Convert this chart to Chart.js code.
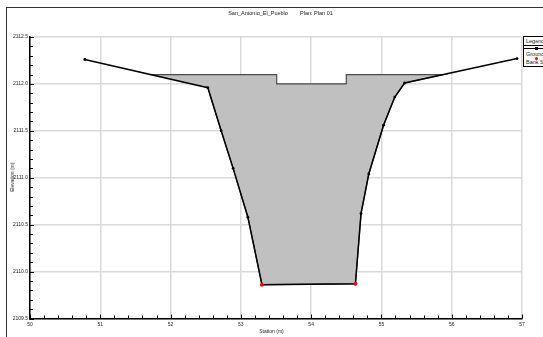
<!DOCTYPE html>
<html>
<head>
<meta charset="utf-8">
<script src="https://cdn.jsdelivr.net/npm/chart.js@4/dist/chart.umd.min.js"></script>
<style>
  body { margin: 0; background: #fff; font-family: "Liberation Sans", Arial, sans-serif; }
  #wrap { position: relative; width: 543px; height: 337px; overflow: hidden; }
  #frame { position: absolute; left: 6px; top: 7px; width: 600px; height: 330px;
           border-left: 1.5px solid #333; border-top: 1.5px solid #333; }
  #title { position: absolute; top: 10px; left: 0; width: 543px; text-align: center;
           font-size: 5.5px; color: #222; white-space: pre; padding-left: 18px; box-sizing: border-box; }
  #xtitle { position: absolute; top: 328px; left: 0; width: 543px; text-align: center; font-size: 5px; color: #222; }
  #ytitle { position: absolute; left: 12px; top: 177px; font-size: 5px; color: #222;
            transform: translate(-50%, -50%) rotate(-90deg); white-space: nowrap; }
  #legend { position: absolute; left: 523px; top: 36px; width: 40px; height: 29px;
            border: 1px solid #000; background: #fff; font-size: 5.5px; color: #222; }
  #legend div { position: absolute; left: 2px; white-space: nowrap; }
  canvas { position: absolute; left: 0; top: 0; }
</style>
</head>
<body>
<div id="wrap">
  <div id="frame"></div>
  <canvas id="chart" width="543" height="337"></canvas>
  <div id="title">San_Antonio_El_Pueblo        Plan: Plan 01</div>
  <div id="ytitle">Elevation (m)</div>
  <div id="xtitle">Station (m)</div>
  <div id="legend">
    <div style="top:1px;">Legend</div>
    <div style="top:8px; left:0; width:40px; border-top:1px solid #000;"></div>
    <div style="top:11px; left:0; width:40px; border-top:1.3px solid #000;"></div>
    <div style="top:10px; left:11px; width:2.5px; height:2.5px; background:#000;"></div>
    <div style="top:14px;">Ground</div>
    <div style="top:20px; left:11px; width:3px; height:3px; border-radius:50%; background:#f00;"></div>
    <div style="top:22px;">Bank Sta</div>
  </div>
</div>
<script>
// ground profile
const groundStation = [50.78, 52.53, 52.72, 52.89, 53.10, 53.30, 54.63, 54.71, 54.82, 55.03, 55.19, 55.33, 56.93];
const groundElev = [2112.26, 2111.96, 2111.50, 2111.10, 2110.58, 2109.86, 2109.87, 2110.62, 2111.04, 2111.56, 2111.86, 2112.01, 2112.27];

// bank stations
const bankStation = [53.30, 54.63];
const bankElev = [2109.86, 2109.87];

// top of the grey area
const topStation = [51.71, 53.51, 53.51, 54.50, 54.50, 55.88];
const topElev = [2112.1, 2112.1, 2112.0, 2112.0, 2112.1, 2112.1];

const xMin = 50, xMax = 57;
const yMin = 2109.5, yMax = 2112.5;

const groundPts = groundStation.map((s, i) => ({ x: s, y: groundElev[i] }));
const bankPts = bankStation.map((s, i) => ({ x: s, y: bankElev[i] }));

// polygon: top edge left to right, then ground back right to left
const shapePts = topStation.map((s, i) => ({ x: s, y: topElev[i] }));
const inside = groundPts.filter(p => p.x > topStation[0] && p.x < topStation[topStation.length - 1]);
for (let i = inside.length - 1; i >= 0; i--) shapePts.push(inside[i]);

const isInt = v => Math.abs(v - Math.round(v)) < 1e-6;
const isHalf = v => Math.abs(v * 2 - Math.round(v * 2)) < 1e-6;

// inward tick marks
const tickPlugin = {
  id: 'inTicks',
  afterDraw(chart) {
    const c = chart.ctx;
    const xs = chart.scales.x, ys = chart.scales.y;
    const area = chart.chartArea;
    c.save();
    c.strokeStyle = '#000';
    c.lineWidth = 1;
    xs.ticks.forEach(t => {
      const px = Math.round(xs.getPixelForValue(t.value)) + 0.5;
      const len = isInt(t.value) ? 4 : 3;
      c.beginPath();
      c.moveTo(px, area.bottom);
      c.lineTo(px, area.bottom - len);
      c.stroke();
    });
    ys.ticks.forEach(t => {
      const py = Math.round(ys.getPixelForValue(t.value)) + 0.5;
      const len = isHalf(t.value) ? 4 : 3;
      c.beginPath();
      c.moveTo(area.left, py);
      c.lineTo(area.left + len, py);
      c.stroke();
    });
    c.restore();
  }
};

const ctx = document.getElementById('chart').getContext('2d');
const chart = new Chart(ctx, {
  type: 'scatter',
  data: {
    datasets: [
      {
        label: 'Ground',
        data: groundPts,
        showLine: true,
        borderColor: '#000',
        borderWidth: 1.5,
        pointRadius: 1.4,
        pointBackgroundColor: '#000',
        pointBorderWidth: 0,
        order: 2
      },
      {
        label: 'Bank Sta',
        data: bankPts,
        showLine: false,
        pointRadius: 2,
        pointBackgroundColor: '#f00',
        pointBorderWidth: 0,
        order: 1
      },
      {
        label: 'Area',
        data: shapePts,
        showLine: true,
        fill: 'shape',
        backgroundColor: '#c0c0c0',
        borderColor: '#4a4a4a',
        borderWidth: 1.2,
        pointRadius: 0,
        order: 3
      }
    ]
  },
  options: {
    responsive: false,
    animation: false,
    layout: { padding: { left: 0, top: 37, right: 21, bottom: 0 } },
    plugins: {
      legend: { display: false },
      tooltip: { enabled: false },
      filler: { propagate: false }
    },
    scales: {
      x: {
        type: 'linear',
        min: xMin,
        max: xMax,
        afterFit(scale) { scale.height = 18.5; },
        border: { color: '#000', width: 1.5 },
        grid: {
          color: c => (isInt(c.tick.value) ? '#d9d9d9' : 'rgba(0,0,0,0)'),
          lineWidth: 1.5,
          drawTicks: false
        },
        ticks: {
          stepSize: 0.2,
          autoSkip: false,
          maxRotation: 0,
          padding: 3,
          color: '#222',
          font: { size: 5, family: 'Liberation Sans' },
          callback: v => (isInt(v) ? String(Math.round(v)) : '')
        }
      },
      y: {
        type: 'linear',
        min: yMin,
        max: yMax,
        afterFit(scale) { scale.width = 30; },
        border: { color: '#000', width: 1.5 },
        grid: {
          color: c => (isHalf(c.tick.value) ? '#d9d9d9' : 'rgba(0,0,0,0)'),
          lineWidth: 1.5,
          drawTicks: false
        },
        ticks: {
          stepSize: 0.1,
          autoSkip: false,
          padding: 2,
          color: '#222',
          font: { size: 5, family: 'Liberation Sans' },
          callback: v => (isHalf(v) ? v.toFixed(1) : '')
        }
      }
    }
  },
  plugins: [tickPlugin]
});
</script>
</body>
</html>
